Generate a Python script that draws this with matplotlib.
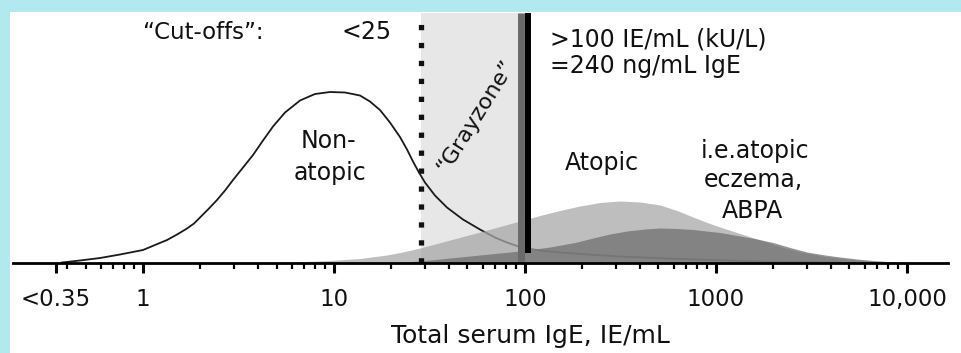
import matplotlib.pyplot as plt
from matplotlib import transforms
from matplotlib.patches import Rectangle
from matplotlib.ticker import NullFormatter

# total serum IgE (IE/mL) against relative frequency (arbitrary units)
nonatopic_ige = [0.377, 0.468, 0.596, 0.758, 1.0, 1.156, 1.336, 1.507, 1.70, 1.849, 1.988, 2.189,
                 2.44, 2.688, 2.96, 3.34, 3.767, 4.249, 4.793, 5.54, 6.637, 7.953, 9.53, 11.42,
                 13.68, 15.43, 17.41, 19.64, 22.16, 24.12, 25.92, 27.86, 29.95, 33.79, 39.05,
                 47.36, 58.13, 69.66, 80.5, 94.15, 119.8, 152.5, 194.1, 314.4, 648, 1700, 4459]
nonatopic_freq = [0, 2, 4.5, 8, 12.5, 17.5, 22.5, 28, 34, 39, 45, 53,
                  62.5, 72, 82.5, 95, 107.5, 122, 136, 150, 162, 168.5, 170.5, 170,
                  167, 161, 152.5, 140, 125.5, 113, 101, 90, 80, 67, 55,
                  43, 33, 25, 20, 15.5, 12, 10, 8.5, 6, 3.5, 1, 0]

atopic_ige = [5.216, 9.53, 13.68, 18.95, 23.53, 28.2, 33.79, 40.5, 48.52, 58.13, 73.97, 94.15,
              119.8, 152.5, 194.1, 247.0, 314.4, 400.1, 509.2, 625.0, 758.0, 897.4, 1049,
              1336, 1700, 2163, 2754, 3722, 5030, 7221, 9192]
atopic_freq = [0, 2, 4, 7.5, 11, 14.5, 18.5, 22.5, 26.5, 30.5, 36, 41.5,
               47, 52, 56.5, 60, 61.5, 60.5, 57.5, 52, 45.5, 40, 35.5,
               29, 22.5, 16, 10.5, 6, 3, 0.5, 0]

eczema_ige = [22.16, 31.81, 40.5, 58.13, 94.15, 135.2, 182.8, 227.0, 278.6, 342.0, 425.1, 509.2,
              625.0, 758.0, 1049, 1336, 1639, 1988, 2440, 2995, 3722, 4459, 5472, 6637, 8147, 10000]
eczema_freq = [0, 2.5, 4.5, 7.5, 11.5, 15.5, 20, 24.5, 28.5, 31.5, 33.5, 34.5,
               34, 33, 30, 26.5, 23.5, 20, 15, 10.5, 7.5, 5.5, 3.5, 2, 0.8, 0]

cutoff_low = 28.5
cutoff_high = 100

tick_values = [0.35, 1, 10, 100, 1000, 10000]
tick_labels = ['<0.35', '1', '10', '100', '1000', '10,000']
minor_values = [0.4, 0.5, 0.6, 0.7, 0.8, 0.9] + [m * 10 ** d for d in range(4) for m in range(2, 10)]

txt = '#111111'

fig = plt.figure(figsize=(9.62, 3.53), dpi=100, facecolor='#b2e8f0')
fig.add_artist(Rectangle((10 / 962, 0), 1, 1 - 12 / 353, transform=fig.transFigure,
                         facecolor='white', edgecolor='none', zorder=-1))

ax = fig.add_axes([13 / 962, 90.5 / 353, 935 / 962, 250 / 353])
ax.set_facecolor('none')
ax.set_xscale('log')
ax.set_xlim(0.2086, 16400)
ax.set_ylim(0, 250)

# grayzone between the cut-offs
ax.axvspan(cutoff_low, cutoff_high, color='#e7e7e7', lw=0, zorder=1)

ax.plot(nonatopic_ige, nonatopic_freq, color='#1a1a1a', lw=1.3, zorder=2)
ax.fill_between(atopic_ige, atopic_freq, color='#a8a8a8', alpha=0.75, lw=0, zorder=3)
ax.fill_between(eczema_ige, eczema_freq, color='#707070', alpha=0.75, lw=0, zorder=4)

ax.axvline(cutoff_low, color=txt, lw=3.8, linestyle=(0, (1.0, 2.4)), zorder=6)

off_gray = transforms.offset_copy(ax.transData, fig=fig, x=-3.5, y=0, units='dots')
off_black = transforms.offset_copy(ax.transData, fig=fig, x=3, y=0, units='dots')
ax.plot([cutoff_high, cutoff_high], [0, 250], color='#6a6a6a', lw=5,
        solid_capstyle='butt', transform=off_gray, zorder=5)
ax.plot([cutoff_high, cutoff_high], [10, 250], color='black', lw=4.3,
        solid_capstyle='butt', transform=off_black, zorder=6)

for s in ['top', 'left', 'right']:
    ax.spines[s].set_visible(False)
ax.spines['bottom'].set_linewidth(2)
ax.spines['bottom'].set_zorder(7)
ax.set_yticks([])

ax.set_xticks(tick_values)
ax.set_xticklabels(tick_labels, fontsize=16.5, color=txt)
ax.set_xticks(minor_values, minor=True)
ax.xaxis.set_minor_formatter(NullFormatter())
ax.tick_params(axis='x', which='major', length=7.2, width=2.2, pad=11, direction='out')
ax.tick_params(axis='x', which='minor', length=4, width=1.6, direction='out')

ax.set_xlabel('Total serum IgE, IE/mL', fontsize=18, color=txt)
ax.xaxis.set_label_coords(0.553, -0.245)

fs = 17
ax.text(2.06, 223.5, '\u201cCut-offs\u201d:', fontsize=16.5, ha='center', va='baseline', color=txt)
ax.text(14.8, 223.5, '<25', fontsize=fs, ha='center', va='baseline', color=txt)
ax.text(135, 215.5, '>100 IE/mL (kU/L)', fontsize=fs, ha='left', va='baseline', color=txt)
ax.text(135, 189.5, '=240 ng/mL IgE', fontsize=fs, ha='left', va='baseline', color=txt)
ax.text(9.3, 114.5, 'Non-', fontsize=fs, ha='center', va='baseline', color=txt)
ax.text(9.52, 82.5, 'atopic', fontsize=fs, ha='center', va='baseline', color=txt)
ax.text(253, 92.5, 'Atopic', fontsize=fs, ha='center', va='baseline', color=txt)
ax.text(1600, 104.5, 'i.e.atopic', fontsize=fs, ha='center', va='baseline', color=txt)
ax.text(1563, 75, 'eczema,', fontsize=fs, ha='center', va='baseline', color=txt)
ax.text(1543, 44.5, 'ABPA', fontsize=fs, ha='center', va='baseline', color=txt)
ax.text(55.4, 146, '\u201cGrayzone\u201d', fontsize=16, rotation=58, rotation_mode='anchor',
        ha='center', va='center', color=txt)

fig.savefig('out.png', dpi=100, facecolor=fig.get_facecolor())
